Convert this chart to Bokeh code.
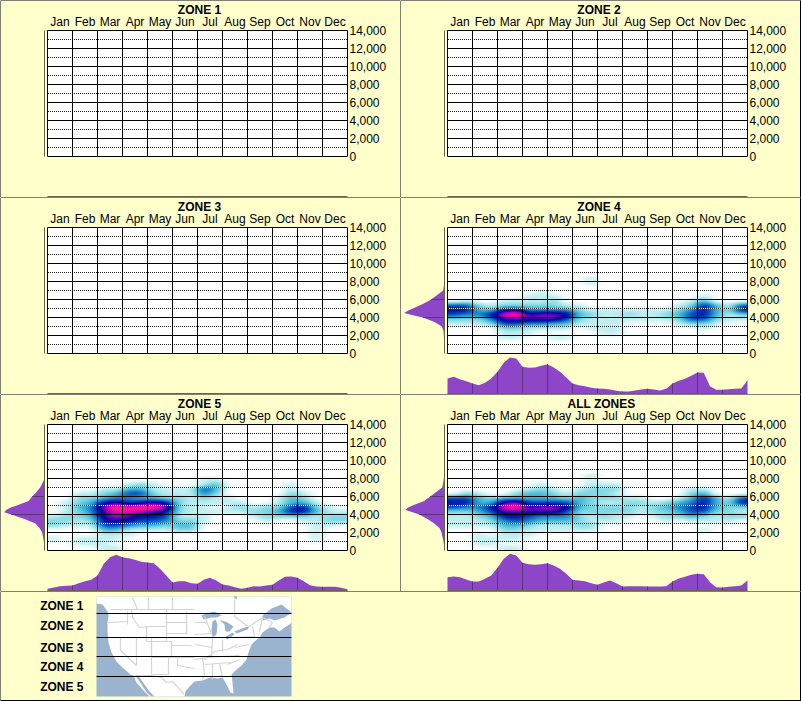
from bokeh.embed import file_html
from bokeh.layouts import column, row
from bokeh.models import LinearColorMapper, Range1d
from bokeh.plotting import figure
from bokeh.resources import INLINE
from bokeh.core.properties import value
import numpy as np

MONTHS = ["Jan", "Feb", "Mar", "Apr", "May", "Jun", "Jul", "Aug", "Sep", "Oct", "Nov", "Dec"]
Y_TICKS = [0, 2000, 4000, 6000, 8000, 10000, 12000, 14000]
Y_MINOR = [1000, 3000, 5000, 7000, 9000, 11000, 13000]
Y_LABELS = ["0", "2,000", "4,000", "6,000", "8,000", "10,000", "12,000", "14,000"]
ZONE_TITLES = ["ZONE 1", "ZONE 2", "ZONE 3", "ZONE 4", "ZONE 5", "ALL ZONES"]

# colour levels of the density image
PALETTE = ["#FFFFFF", "#C4F0F2", "#88DCE6", "#4CBEDA", "#2490CE", "#0C58C0",
           "#0020B0", "#0C009C", "#7800C8", "#E000B4", "#FF1C9C"]

# heat levels: rows from 8250 ft (top) down to 250 ft, 24 half-month columns
HEAT_ZONE4 = [
    [0,0,0,0,0,0,0,0,0,0,0,1,0,0,0,0,0,0,0,0,0,0,0,0],
    [0,0,0,0,0,0,0,0,0,0,0,1,0,0,0,0,0,0,0,0,0,0,0,0],
    [0,0,0,0,0,0,0,0,0,0,0,0,0,0,0,0,0,0,0,0,0,0,0,0],
    [0,0,0,0,0,0,0,1,0,0,0,0,0,0,0,0,0,0,0,0,0,0,0,0],
    [0,0,0,0,0,0,1,1,1,0,0,0,0,0,0,0,0,0,0,0,1,0,0,0],
    [0,1,0,0,1,1,1,1,2,0,0,0,0,0,0,0,0,0,0,1,3,0,0,0],
    [5,5,2,1,2,2,2,2,2,1,1,0,0,0,0,0,0,0,1,2,6,3,1,5],
    [6,6,3,3,6,7,4,4,4,4,2,1,1,1,1,1,1,1,2,4,6,3,2,6],
    [5,4,4,6,9,10,7,8,8,7,3,2,1,1,2,1,1,2,3,5,6,3,1,2],
    [2,2,2,4,7,7,7,7,7,5,2,1,1,1,1,1,1,1,2,5,5,2,1,1],
    [1,1,1,2,5,5,4,4,3,3,1,1,1,1,0,0,0,0,1,2,2,1,0,0],
    [0,0,0,0,2,2,1,1,1,1,0,1,1,1,0,0,0,0,0,0,1,0,0,0],
    [0,0,0,0,1,1,1,0,0,0,0,0,1,1,0,0,0,0,0,0,0,0,0,0],
    [0,0,0,0,1,1,0,0,1,1,0,0,0,0,0,0,0,0,0,0,0,0,0,0],
    [0,0,0,0,0,0,0,0,0,0,0,0,0,0,0,0,0,0,0,0,0,0,0,0],
    [0,0,0,0,0,0,0,0,0,0,0,0,0,0,0,0,0,0,0,0,0,0,0,0],
    [0,0,0,0,0,0,0,0,0,0,0,0,0,0,0,0,0,0,0,0,0,0,0,0],
]
HEAT_ZONE5 = [
    [0,0,0,0,0,0,0,0,0,0,0,0,0,0,0,0,0,0,0,0,0,0,0,0],
    [0,0,0,0,0,0,0,0,0,0,0,0,1,1,0,0,0,0,0,0,0,0,0,0],
    [0,0,0,0,0,0,1,2,1,0,0,0,1,3,0,0,0,0,0,1,0,0,0,0],
    [0,0,0,0,1,1,3,3,1,1,1,1,5,3,0,0,0,0,0,1,0,0,0,0],
    [0,0,1,1,2,3,5,5,2,1,1,1,4,2,0,0,0,0,0,2,1,0,0,0],
    [0,0,2,2,3,4,4,3,3,2,2,1,2,1,1,0,0,0,1,3,2,0,0,0],
    [0,1,2,3,6,7,5,6,7,6,2,1,1,1,1,1,0,0,1,3,3,1,0,0],
    [0,1,3,4,8,10,9,10,10,8,2,1,1,0,1,2,1,2,2,5,6,2,1,0],
    [0,1,2,4,7,9,9,8,7,6,2,1,1,1,1,1,2,2,3,6,6,3,1,1],
    [1,2,2,3,7,8,7,6,6,5,1,1,1,0,0,0,1,2,2,2,2,1,2,2],
    [2,2,1,2,6,7,6,5,5,4,2,2,1,0,0,0,0,1,0,0,1,1,2,2],
    [2,1,1,1,5,5,4,3,3,2,3,3,0,0,0,0,0,0,0,0,0,1,1,0],
    [0,0,0,0,3,3,1,1,1,1,2,2,0,0,0,0,0,0,0,0,0,1,0,0],
    [0,0,0,0,1,1,1,0,0,0,0,0,0,0,0,0,0,0,0,0,0,1,0,0],
    [1,0,1,1,1,1,0,0,0,0,0,0,0,0,0,0,0,0,0,0,0,1,0,0],
    [0,0,1,1,1,0,0,0,0,0,0,0,0,0,0,0,0,0,0,0,0,0,0,0],
    [0,0,0,0,1,1,0,0,0,0,0,0,0,0,0,0,0,0,0,0,0,0,0,0],
]
HEAT_ALL = [
    [0,0,0,0,0,0,0,0,0,0,0,1,0,0,0,0,0,0,0,0,0,0,0,0],
    [0,0,0,0,0,0,0,0,0,0,0,1,0,0,0,0,0,0,0,0,0,0,0,0],
    [0,0,0,0,0,0,0,1,0,0,0,1,1,1,0,0,0,0,0,0,0,0,0,0],
    [0,0,0,0,0,0,1,2,1,0,1,2,2,2,0,0,0,0,0,1,1,0,0,0],
    [0,2,1,0,0,2,3,3,2,1,2,2,2,1,0,0,0,0,0,2,3,0,0,0],
    [5,5,3,2,3,3,3,3,3,2,3,2,2,2,1,1,0,0,1,3,6,3,1,5],
    [6,6,3,3,7,8,5,5,5,5,3,2,1,1,2,2,1,2,3,4,6,3,2,6],
    [5,4,4,6,9,10,7,8,8,7,3,2,2,2,2,1,2,3,4,5,6,3,2,2],
    [2,2,3,5,7,7,7,7,7,5,2,2,2,2,2,1,2,2,3,5,5,2,2,1],
    [1,1,2,3,6,6,5,4,4,4,2,1,2,1,1,0,1,2,2,3,2,1,2,2],
    [1,1,1,2,4,5,4,3,3,3,2,1,1,1,0,0,0,1,0,1,1,1,1,0],
    [1,1,1,1,3,3,2,1,1,1,2,2,0,0,0,0,0,0,0,0,0,0,0,0],
    [0,0,0,0,2,2,1,1,1,1,1,1,0,0,0,0,0,0,0,0,1,0,0,0],
    [0,0,1,0,1,1,1,0,0,0,0,0,0,0,0,0,0,0,0,0,0,0,0,0],
    [0,0,1,1,1,1,0,0,0,0,0,0,0,0,0,0,0,0,0,0,0,0,0,0],
    [0,0,1,1,0,0,0,0,0,0,0,0,0,0,0,0,0,0,0,0,0,0,0,0],
    [0,0,0,0,1,1,0,0,0,0,0,0,0,0,0,0,0,0,0,0,0,0,0,0],
]

# monthly profile under each chart, one value each quarter of a month
PROFILE_ZONE4 = [45,50,43,37,30,25,32,45,65,92,108,105,80,77,78,83,88,78,65,48,30,25,22,17,15,14,12,8,6,6,9,12,14,12,9,14,30,38,44,53,63,62,22,11,11,13,14,15,40]
PROFILE_ZONE5 = [5,9,13,14,15,22,28,32,45,80,100,107,100,97,92,86,84,82,65,45,24,28,28,22,20,32,38,30,18,15,10,5,8,13,12,15,17,30,41,42,38,28,16,12,11,11,11,8,4]
PROFILE_ALL = [40,42,40,33,27,27,35,45,68,95,110,105,83,79,77,79,82,75,65,50,32,30,28,22,17,24,30,22,12,13,13,13,12,12,12,13,27,36,41,47,50,49,25,10,9,11,13,15,30]

# altitude profile left of each chart
ALT_FEET = [0,1000,2000,2500,3000,3500,4000,4250,4500,4750,5000,5500,6000,6500,7000,7500,8000,8500,9000]
ALT_ZONE4 = [0,1,2,3,8,30,65,95,121,110,95,65,40,22,4,2,1,0,0]
ALT_ZONE5 = [0,2,7,15,27,60,100,121,115,103,83,48,37,24,13,6,0,0,0]
ALT_ALL = [0,3,9,15,31,51,76,96,117,111,96,61,43,25,7,4,2,1,0]

# legend
LEGEND_NAMES = ["ZONE 1", "ZONE 2", "ZONE 3", "ZONE 4", "ZONE 5"]
LEGEND_Y = [9, 29, 51, 70, 90]
MAP_ZONE_LINES = [17, 41, 60, 80]
LAND_X = [0,195,195,193,188,183,178,173,166,163,158,155,152,150,145,140,135,136,137,134,130,126,121,113,106,98,93,89,88,58,53,48,43,39,45,51,55,53,48,40,37,34,26,20,15,12,11,11,12,11,6,0]
LAND_Y = [0,0,26,28,31,35,31,31,36,41,45,48,56,63,69,73,78,86,97,96,88,81,82,81,84,85,90,95,100,100,95,88,81,79,88,97,100,100,95,86,79,78,71,65,56,46,35,26,19,15,8,7]
LAKES_X = [[105,113,118,125,120,115,107],[116,119,121,120,116,115],[123,131,137,133,129,128],[128,136,138,131],[138,148,153,151,140],[166,175,185,195,188,178,173,166],[136,141,140]]
LAKES_Y = [[19,16,15,19,21,21,23],[25,23,28,38,41,33],[23,26,30,35,35,28],[41,36,38,43],[35,31,30,33,37],[19,12,8,16,21,24,22,24],[0,0,3]]
BORDERS_X = [[14,98],[36,41],[52,52],[76,76],[138,138,145,151],[11,31],[31,31],[35,36,43,50],[11,41],[24,24,40],[40,40],[50,50,55,55],[40,70],[50,70,70,50,50],[55,75,75,55,55],[70,70],[70,90],[70,91],[75,95],[71,98],[72,72,56],[81,81,98],[37,55,65,70,76,88],[90,90],[98,110],[98,115],[98,116],[98,113],[116,115],[126,126],[108,118,131,141],[108,135],[110,143],[106,108,106],[116,116],[123,126],[131,143],[136,158],[138,153],[156,158],[166,163],[153,166,176,173],[108,115]]
BORDERS_Y = [[13,13],[1,13],[1,13],[1,13],[3,20,25,30],[26,25],[15,28],[13,21,31,30],[41,41],[41,54,69],[41,69],[30,41,41,78],[60,60],[30,30,45,45,30],[45,45,61,61,45],[13,30],[26,26],[37,37],[49,49],[61,61],[61,78,78],[61,69,72],[79,79,81,86,85,98],[15,37],[26,26],[38,37],[48,51],[63,61],[41,60],[43,55],[63,55,53,48],[68,66],[61,59],[61,78,83],[67,83],[67,81],[68,63],[41,40],[51,48],[30,40],[21,35],[30,21,26,31],[20,37]]

CREAM = "#FFFFCC"
PURPLE = "#8E46C9"
DARK_PURPLE = "#5C3478"
BASE_LINE = "#66664A"
FONT = value("Liberation Sans")

PANEL_H = 197
FT_PER_PX = 1000 / 9          # 126 px for 14 000 ft
PX_PER_MONTH = 25
LEFT_PX, TOP_PX = 47, 30
SIDE_BASE_PX, FLOOR_PX = 44, 196
UNIT_PX = 1 / 3               # one profile unit in pixels


def ramp(colours, n=256):
    """Continuous colour ramp through the named levels."""
    rgb = np.array([[int(c[i:i + 2], 16) for i in (1, 3, 5)] for c in colours], dtype=float)
    t = np.linspace(0, len(colours) - 1, n)
    out = [np.interp(t, np.arange(len(colours)), rgb[:, k]) for k in range(3)]
    return ["#%02X%02X%02X" % (int(r), int(g), int(b)) for r, g, b in zip(*out)]


def soften(cells, fx=25, fy=9):
    """Show the read cells as a soft picture, the way the source is drawn."""
    a = np.repeat(np.repeat(np.array(cells, dtype=float), fy, axis=0), fx, axis=1)
    for axis, size in ((1, fx), (0, fy)):
        kernel = np.ones(size) / size
        for _ in range(2):
            pad = [(0, 0), (0, 0)]
            pad[axis] = (size // 2, size - 1 - size // 2)
            a = np.apply_along_axis(lambda v: np.convolve(v, kernel, mode="valid"), axis,
                                    np.pad(a, pad, mode="edge"))
    return a


HEAT_COLOURS = ramp(PALETTE)


def frame_lines(p, width, height, left=True, top=True, right=False, bottom=False):
    """One-pixel black rules along the edges of a figure, in its own data space."""
    xr, yr = p.x_range, p.y_range
    fx = lambda px: xr.start + (xr.end - xr.start) * px / width
    fy = lambda px: yr.end + (yr.start - yr.end) * px / height
    x_a, x_b, y_a, y_b = [], [], [], []
    if left:
        x_a.append(fx(0)); x_b.append(fx(0)); y_a.append(fy(0)); y_b.append(fy(height))
    if right:
        x_a.append(fx(width - 1)); x_b.append(fx(width - 1)); y_a.append(fy(0)); y_b.append(fy(height))
    if top:
        x_a.append(fx(0)); x_b.append(fx(width)); y_a.append(fy(0)); y_b.append(fy(0))
    if bottom:
        x_a.append(fx(0)); x_b.append(fx(width)); y_a.append(fy(height - 1)); y_b.append(fy(height - 1))
    p.segment(x0=x_a, x1=x_b, y0=y_a, y1=y_b, line_color="black", line_width=1)


def panel(title, width, title_px, heat=None, profile=None, alt=None):
    x0 = -LEFT_PX / PX_PER_MONTH
    x1 = (width - LEFT_PX) / PX_PER_MONTH
    y1 = 14000 + TOP_PX * FT_PER_PX
    y0 = y1 - PANEL_H * FT_PER_PX
    p = figure(width=width, height=PANEL_H, output_backend="svg", toolbar_location=None,
               x_range=Range1d(x0, x1), y_range=Range1d(y0, y1),
               x_axis_location=None, y_axis_location=None, min_border=0,
               background_fill_color=CREAM, border_fill_color=CREAM, outline_line_color=None)
    p.grid.visible = False
    p.extra_x_ranges["side"] = Range1d(SIDE_BASE_PX / UNIT_PX, -(width - SIDE_BASE_PX) / UNIT_PX)
    p.extra_y_ranges["floor"] = Range1d(-(PANEL_H - FLOOR_PX) / UNIT_PX, FLOOR_PX / UNIT_PX)

    # chart body
    p.quad(left=[0], right=[12], bottom=[0], top=[14000], fill_color="white", line_color=None)
    if heat is not None:
        mapper = LinearColorMapper(palette=HEAT_COLOURS, low=0, high=9.4)
        p.image(image=[np.flipud(soften(heat))], x=0, y=0, dw=12, dh=8500, color_mapper=mapper)

    # profiles
    if profile is not None:
        xs = [i / 4 for i in range(len(profile))]
        p.varea(x=xs, y1=[0] * len(xs), y2=profile, fill_color=PURPLE, y_range_name="floor")
        marks = list(range(1, 12))
        p.segment(x0=marks, x1=marks, y0=[0] * len(marks), y1=[profile[m * 4] for m in marks],
                  line_color=DARK_PURPLE, line_width=1, y_range_name="floor")
    if alt is not None:
        p.harea(y=ALT_FEET, x1=[0] * len(alt), x2=alt, fill_color=PURPLE, x_range_name="side")
        levels = [4000, 6000]
        p.segment(x0=[0, 0], x1=[alt[ALT_FEET.index(v)] for v in levels], y0=levels, y1=levels,
                  line_color=DARK_PURPLE, line_width=1, x_range_name="side")

    # base lines
    p.segment(x0=[0], x1=[12], y0=[0], y1=[0], line_color=BASE_LINE, line_width=1, y_range_name="floor")
    p.segment(x0=[0], x1=[0], y0=[0], y1=[14000], line_color=BASE_LINE, line_width=1, x_range_name="side")

    # grid
    n = len(Y_MINOR)
    dot_start = 0.5 / PX_PER_MONTH   # keeps the one-pixel dots on whole pixels
    p.segment(x0=[0] * n, x1=[12] * n, y0=Y_MINOR, y1=Y_MINOR, line_color="white", line_width=1)
    p.segment(x0=[dot_start] * n, x1=[12] * n, y0=Y_MINOR, y1=Y_MINOR, line_color="#222222", line_width=1,
              line_dash="1 1")
    n = len(Y_TICKS)
    p.segment(x0=[0] * n, x1=[12] * n, y0=Y_TICKS, y1=Y_TICKS, line_color="black", line_width=1)
    edges = list(range(13))
    p.segment(x0=edges, x1=edges, y0=[0] * 13, y1=[14000] * 13, line_color="black", line_width=1)

    # texts
    p.text(x=[i + 0.5 for i in range(12)], y=[14000 + 8.5 * FT_PER_PX] * 12, text=MONTHS,
           text_font=FONT, text_font_size="12px", text_align="center",
           text_baseline="middle", text_color="black")
    p.text(x=[12 + 2 / PX_PER_MONTH] * len(Y_TICKS), y=[v + 0.5 * FT_PER_PX for v in Y_TICKS], text=Y_LABELS,
           text_font=FONT, text_font_size="12px", text_align="left",
           text_baseline="middle", text_color="black")
    p.text(x=[(title_px - LEFT_PX) / PX_PER_MONTH], y=[14000 + 21 * FT_PER_PX], text=[title], text_font=FONT,
           text_font_size="12px", text_font_style="bold", text_align="center",
           text_baseline="middle", text_color="black")
    return p


def legend_panel():
    p = figure(width=801, height=110, output_backend="svg", toolbar_location=None,
               x_range=Range1d(-96, 705), y_range=Range1d(105, -5),
               x_axis_location=None, y_axis_location=None, min_border=0,
               background_fill_color=CREAM, border_fill_color=CREAM, outline_line_color=None)
    p.grid.visible = False
    p.quad(left=[0], right=[195], top=[0], bottom=[100], fill_color="#9AB3CF", line_color=None)
    p.patch(LAND_X, LAND_Y, fill_color="white", line_color=None)
    p.patches(LAKES_X, LAKES_Y, fill_color="#9AB3CF", line_color=None)
    p.multi_line(BORDERS_X, BORDERS_Y, line_color="#D4D4D4", line_width=1.2)
    n = len(MAP_ZONE_LINES)
    p.segment(x0=[0] * n, x1=[195] * n, y0=MAP_ZONE_LINES, y1=MAP_ZONE_LINES, line_color="black", line_width=1)
    p.text(x=[-13] * 5, y=LEGEND_Y, text=LEGEND_NAMES, text_font=FONT, text_font_size="12px",
           text_font_style="bold", text_align="right", text_baseline="middle", text_color="black")
    return p


panels = [
    panel(ZONE_TITLES[0], 400, 199),
    panel(ZONE_TITLES[1], 401, 198.5),
    panel(ZONE_TITLES[2], 400, 199),
    panel(ZONE_TITLES[3], 401, 198.5, HEAT_ZONE4, PROFILE_ZONE4, ALT_ZONE4),
    panel(ZONE_TITLES[4], 400, 199, HEAT_ZONE5, PROFILE_ZONE5, ALT_ZONE5),
    panel(ZONE_TITLES[5], 401, 201, HEAT_ALL, PROFILE_ALL, ALT_ALL),
]
for i, p in enumerate(panels):
    frame_lines(p, p.width, p.height, right=bool(i % 2))
legend = legend_panel()
frame_lines(legend, legend.width, legend.height, right=True, bottom=True)

page = column(row(panels[0], panels[1], spacing=0), row(panels[2], panels[3], spacing=0),
              row(panels[4], panels[5], spacing=0), legend, spacing=0, margin=0)
open("out.html", "w").write(file_html(page, INLINE))
